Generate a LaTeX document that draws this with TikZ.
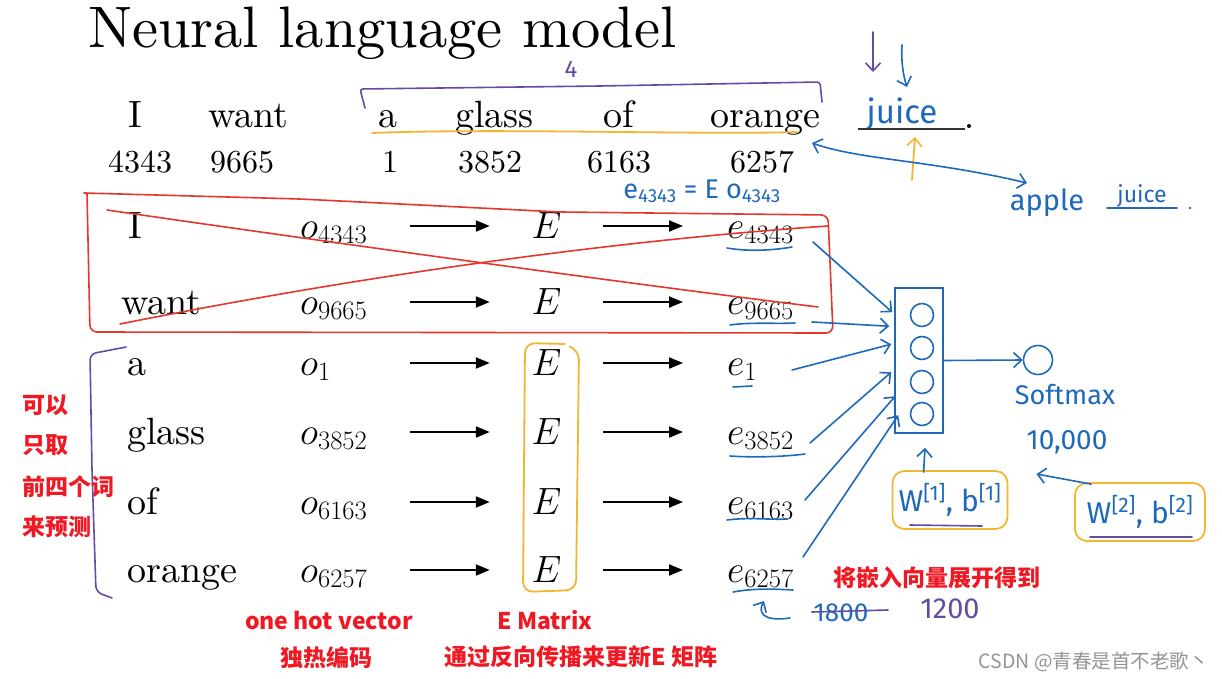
\documentclass[tikz,border=0pt]{standalone}
\usepackage{fix-cm}
\usepackage{fontspec}
\setmainfont{lmroman10-regular.otf}[ItalicFont=lmroman10-italic.otf]
\newfontfamily\cjk{Noto Sans CJK SC}
\newfontfamily\hand{Fira Sans}
\usetikzlibrary{arrows.meta,calc}
\definecolor{hblue}{RGB}{30,105,185}
\definecolor{hpur}{RGB}{100,75,165}
\definecolor{hora}{RGB}{242,182,50}
\definecolor{hred}{RGB}{228,55,45}
\definecolor{tred}{RGB}{240,25,35}
\begin{document}
\begin{tikzpicture}[x=1pt,y=-1pt,
  wd/.style={anchor=base west,inner sep=0pt,font=\fontsize{38}{42}\selectfont},
  num/.style={anchor=base west,inner sep=0pt,font=\fontsize{32}{36}\selectfont},
  emat/.style={inner sep=0pt,minimum width=113pt,font=\fontsize{38}{42}\selectfont},
  arr/.style={line width=2pt,-{Triangle[length=14pt,width=11pt]}},
  bl/.style={draw=hblue,line width=1.6pt,line cap=round,line join=round},
  barr/.style={bl,-{Straight Barb[length=8pt,width=15pt,line width=1.6pt]}},
  redl/.style={draw=hred,line width=1.6pt,line cap=round,line join=round},
  purl/.style={draw=hpur,line width=1.6pt,line cap=round,line join=round},
  oral/.style={draw=hora,line width=1.8pt,line cap=round,line join=round},
  htext/.style={inner sep=0pt,text=hblue,font=\hand\fontsize{#1}{#1}\selectfont},
  rtext/.style={inner sep=0pt,text=tred,font=\cjk\bfseries\fontsize{23}{26}\selectfont},
  obox/.style={draw=hora,line width=1.8pt,rounded corners=12pt,inner sep=0pt,text=hblue,font=\hand\fontsize{30}{32}\selectfont}
]
\useasboundingbox (0,0) rectangle (1222,679);
\fill[white] (0,0) rectangle (1222,679);

% title
\node[anchor=base west,inner sep=0pt,font=\fontsize{58.5}{62}\selectfont] (title) at (88,48) {Neural language model};

% sentence
\node[wd] (w1) at (128,128) {I};
\node[wd] (w2) at (208,128) {want};
\node[wd] (w3) at (378,128) {a};
\node[wd] (w4) at (455,128) {glass};
\node[wd] (w5) at (603,128) {of};
\node[wd] (w6) at (710,128) {orange};
\node[num] (n1) at (108,173) {4343};
\node[num] (n2) at (210,173) {9665};
\node[num] (n3) at (382,173) {1};
\node[num] (n4) at (458,173) {3852};
\node[num] (n5) at (587,173) {6163};
\node[num] (n6) at (730,173) {6257};

% table
\foreach \i/\y/\x/\w/\n in {1/226/128/I/4343, 2/302/121/want/9665, 3/363/127/a/1, 4/432/127/glass/3852, 5/502/127/of/6163, 6/570/127/orange/6257} {
  \node[wd] (t\i) at (\x,\y+12) {\w};
  \node[wd] (o\i) at (300,\y+12) {$o_{\n}$};
  \node[emat] (E\i) at (546.5,\y) {$E$};
  \coordinate (p\i) at (410,\y);
  \coordinate (q\i) at (683,\y);
  \draw[arr] (p\i) -- (E\i.west);
  \draw[arr] (E\i.east) -- (q\i);
  \node[wd] (e\i) at (727,\y+12) {$e_{\n}$};
}

% red crossed box
\draw[redl,rounded corners=7pt] (84,193) -- (300,199) -- (560,212) -- (828,215) -- (833,333) -- (90,332) -- (87,193);
\draw[redl] (107,210) .. controls (300,238) and (600,280) .. (818,307);
\draw[redl] (120,324) .. controls (400,268) and (650,238) .. (828,226);

% orange box around E
\draw[oral,rounded corners=10pt] (565,344) -- (525,343) -- (523,592) -- (576,590) -- (579,350) -- (571,347);

% purple left bracket
\draw[purl,rounded corners=6pt] (126,347) -- (90,354) -- (92,470) -- (96,592) -- (112,598);

% purple top bracket and 4
\draw[purl,rounded corners=3pt] (365,108) -- (360,89) -- (600,86) -- (820,82) -- (822,102);
\node[inner sep=0pt,text=hpur,font=\hand\fontsize{24}{24}\selectfont] (four) at (571,69) {4};
% orange underline
\draw[oral] (372,133) .. controls (500,128) and (700,135) .. (797,132);

% juice blank
\node[htext=33] (juice) at (902,114) {juice};
\coordinate (bl1) at (858,129);
\coordinate (bl2) at (965,129);
\draw[line width=2pt,black!80] (bl1) -- (bl2);
\fill[black] (969,126) circle (2pt);
\coordinate (pa1) at (873,32); \coordinate (pa2) at (873,72);
\draw[purl,-{Straight Barb[length=8pt,width=15pt,line width=1.6pt]}] (pa1) -- (pa2);
\coordinate (ba1) at (902,45); \coordinate (ba2) at (907,87);
\draw[barr] (ba1) .. controls (901,60) and (903,75) .. (ba2);
\coordinate (oa1) at (912,180); \coordinate (oa2) at (915,137);
\draw[oral,-{Straight Barb[length=8pt,width=15pt,line width=1.6pt]}] (oa1) -- (oa2);

% double arrow to apple juice
\coordinate (da1) at (812,143); \coordinate (da2) at (1027,183);
\draw[bl,{Straight Barb[length=8pt,width=15pt,line width=1.6pt]}-{Straight Barb[length=8pt,width=15pt,line width=1.6pt]}] (da1) .. controls (860,160) and (930,160) .. (da2);
\node[htext=29] (apple) at (1047,203) {apple};
\node[htext=23] (juice2) at (1142,196) {juice};
\coordinate (ju1) at (1107,208);
\coordinate (ju2) at (1177,208);
\draw[bl] (ju1) -- (ju2);
\fill[hblue] (1190,208) circle (1.4pt);

% e = E o
\node[htext=27] (eq) at (702,191) {e\textsubscript{4343} = E o\textsubscript{4343}};

% blue underlines
\draw[bl] (727,248) .. controls (750,252) and (775,250) .. (792,247);
\draw[bl] (730,325) .. controls (750,322) and (775,324) .. (795,323);
\draw[bl] (733,387) -- (752,386);
\draw[bl] (730,456) .. controls (760,458) and (790,456) .. (805,454);
\draw[bl] (727,520) .. controls (750,517) and (770,520) .. (787,519);
\draw[bl] (733,592) .. controls (755,588) and (775,589) .. (793,590);

% hidden layer
\node[draw=hblue,line width=1.6pt,minimum width=48pt,minimum height=145pt,inner sep=0pt] (hid) at (919,360.5) {};
\foreach \k/\cy in {1/315,2/348,3/382,4/414} {
  \node[circle,draw=hblue,line width=1.6pt,minimum size=23pt,inner sep=0pt] (c\k) at (922,\cy) {};
}
\coordinate (s1) at (813,242);
\coordinate (s2) at (812,322);
\coordinate (s3) at (792,370);
\coordinate (s4) at (810,443);
\coordinate (s5) at (805,500);
\coordinate (s6) at (803,557);
\draw[barr] (s1) -- ($(hid.north west)+(-2,25)$);
\draw[barr] (s2) -- ($(hid.north west)+(-5,39)$);
\draw[barr] (s3) -- ($(hid.north west)+(-3,57)$);
\draw[barr] (s4) -- ($(hid.north west)+(-3,85)$);
\draw[barr] (s5) -- ($(hid.north west)+(1,109)$);
\draw[barr] (s6) -- ($(hid.north west)+(4,128)$);

% softmax
\node[circle,draw=hblue,line width=1.6pt,minimum size=29pt,inner sep=0pt] (sm) at (1038,360) {};
\draw[barr] (hid.east) -- (sm.west);
\node[htext=27] (smt) at (1065,395) {Softmax};
\node[htext=28] (tenk) at (1067,442) {10,000};

% parameter boxes
\node[obox,minimum width=115pt,minimum height=58pt] (wb1) at (950,500) {W\textsuperscript{[1]}, b\textsuperscript{[1]}};
\draw[purl] (910,525) -- (982,526);
\draw[barr] ($(wb1.north west)+(32,2)$) -- ($(hid.south)+(6,14)$);
\node[obox,minimum width=130pt,minimum height=58pt] (wb2) at (1140,512) {W\textsuperscript{[2]}, b\textsuperscript{[2]}};
\draw[purl] (1090,537) -- (1192,537);
\draw[barr] ($(wb2.north west)+(17,2)$) -- ($(tenk.south west)+(10,20)$);

% 1800 / 1200
\coordinate (cu1) at (790,618); \coordinate (cu2) at (764,601);
\draw[barr] (cu1) .. controls (762,622) and (758,612) .. (cu2);
\node[htext=26] (n1800) at (841,613) {1800};
\coordinate (st1) at (812,612);
\coordinate (st2) at (888,610);
\draw[purl] (st1) -- (st2);
\node[inner sep=0pt,text=hpur,font=\hand\fontsize{29}{29}\selectfont] (n1200) at (950,609) {1200};

% red annotations
\node[rtext,anchor=west] (r1) at (22,405) {可以};
\node[rtext,anchor=west] (r2) at (22,445) {只取};
\node[rtext,anchor=west] (r3) at (22,487) {前四个词};
\node[rtext,anchor=west] (r4) at (22,527) {来预测};
\node[rtext] (oh) at (329,620) {one hot vector};
\node[rtext] (dr) at (326,658) {独热编码};
\node[rtext] (em) at (545,620) {E Matrix};
\node[rtext] (bp) at (581,657) {通过反向传播来更新E 矩阵};
\node[rtext] (zk) at (937,578) {将嵌入向量展开得到};

% watermark
\node[inner sep=0pt,anchor=east,text=black!42,font=\cjk\fontsize{19.5}{21}\selectfont] (wm) at (1209,662) {CSDN @青春是首不老歌丶};
\end{tikzpicture}
\end{document}
